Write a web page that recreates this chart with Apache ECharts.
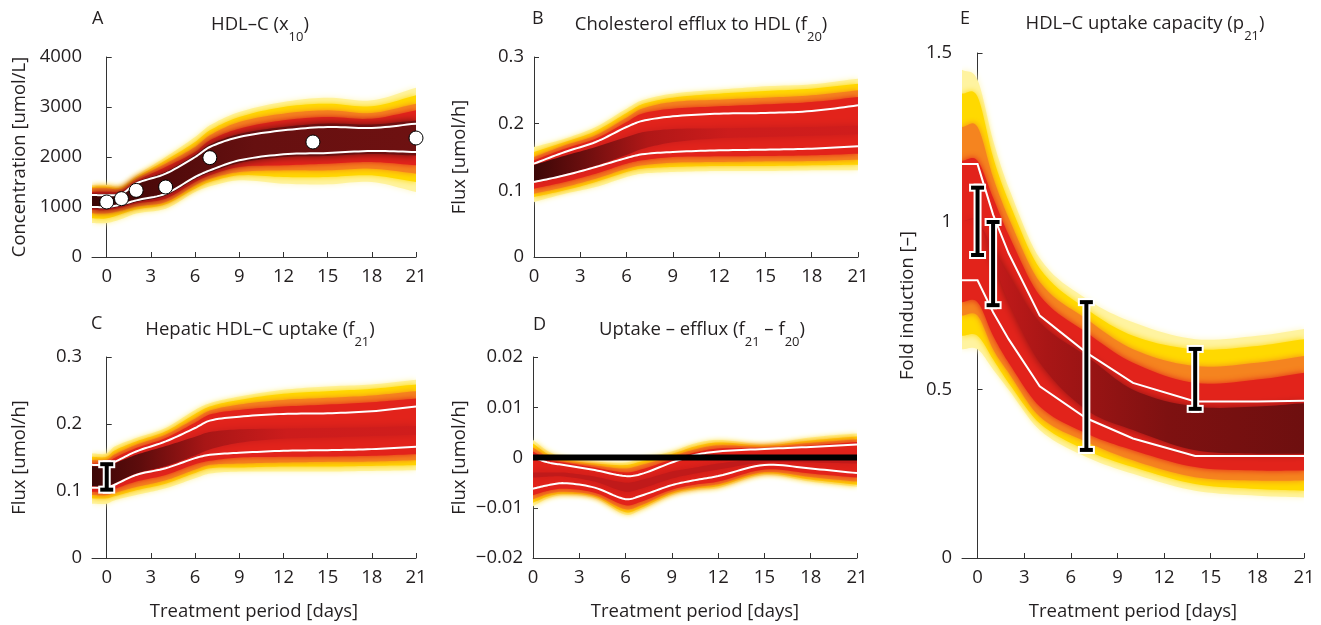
<!DOCTYPE html>
<html><head><meta charset="utf-8">
<script src="https://cdn.jsdelivr.net/npm/echarts@6/dist/echarts.min.js"></script>
<style>html,body{margin:0;padding:0;background:#fff}#c{width:1321px;height:625px}</style>
</head><body><div id="c"></div><script>
// ---------- Panel A : HDL-C (x10) ----------
const tA      = [-1, 0, 1, 2, 4, 6, 7, 9, 12, 15, 18, 21];
const aPaleHi = [1440,1440,1420,1630,2000,2400,2633,2900,3100,3187,3133,3387];
const aYelHi  = [1407,1407,1390,1595,1933,2300,2533,2800,3000,3067,3013,3233];
const aOraHi  = [1373,1373,1360,1560,1867,2200,2433,2700,2867,2933,2880,3067];
const aRedHi  = [1307,1307,1320,1520,1800,2100,2333,2567,2733,2800,2767,2933];
const aDarkHi = [1265,1260,1285,1495,1700,2040,2250,2460,2600,2670,2650,2730];
const aWhiteHi= [1240,1235,1260,1470,1667,2000,2200,2400,2533,2600,2580,2667];
const aWhiteLo= [1000,1000,1050,1133,1267,1600,1733,1933,2053,2080,2120,2100];
const aDarkLo = [975,975,1020,1100,1230,1560,1690,1880,2000,2020,2060,2030];
const aRedLo  = [940,940,990,1070,1167,1500,1633,1800,1833,1867,1900,1833];
const aOraLo  = [873,873,930,1010,1100,1433,1567,1700,1733,1733,1767,1667];
const aYelLo  = [773,773,860,950,1053,1367,1500,1633,1600,1600,1633,1500];
const aPaleLo = [680,680,760,870,967,1300,1413,1533,1467,1453,1500,1300];
const tObs    = [0, 1, 2, 4, 7, 14, 21];
const hdlObs  = [1100, 1167, 1333, 1400, 1987, 2300, 2380];

// ---------- Panel B : efflux f20 ----------
const tB      = [0, 2, 4, 6, 7, 9, 12, 15, 18, 21];
const bPaleHi = [0.165,0.1775,0.195,0.2225,0.235,0.245,0.251,0.256,0.259,0.2675];
const bYelHi  = [0.1575,0.1725,0.189,0.216,0.229,0.239,0.245,0.249,0.2525,0.26];
const bOraHi  = [0.150,0.1675,0.1825,0.209,0.2225,0.2325,0.236,0.239,0.2425,0.25];
const bRedHi  = [0.145,0.1625,0.1775,0.2025,0.215,0.2225,0.226,0.229,0.2325,0.24];
const bDarkHi = [0.138,0.152,0.165,0.18,0.187,0.192,0.193,0.194,0.195,0.197];
const bWhiteHi= [0.140,0.1575,0.1725,0.195,0.204,0.211,0.215,0.216,0.219,0.2275];
const bWhiteLo= [0.1125,0.1225,0.135,0.1485,0.154,0.1575,0.160,0.161,0.1625,0.166];
const bDarkLo = [0.112,0.124,0.137,0.153,0.162,0.172,0.178,0.180,0.182,0.184];
const bRedLo  = [0.1025,0.1125,0.125,0.140,0.145,0.150,0.151,0.1515,0.1525,0.155];
const bOraLo  = [0.095,0.105,0.1175,0.1325,0.1375,0.1415,0.1425,0.1435,0.144,0.146];
const bYelLo  = [0.090,0.100,0.1125,0.1275,0.1325,0.135,0.1365,0.1365,0.1375,0.1385];
const bPaleLo = [0.0825,0.095,0.105,0.120,0.125,0.1275,0.129,0.129,0.130,0.130];

// ---------- Panel C : hepatic uptake f21 ----------
const tC      = [-1, 0, 0.5, 2, 4, 6, 7, 9, 12, 15, 18, 21];
const cPaleHi = [0.156,0.156,0.166,0.179,0.194,0.221,0.231,0.241,0.251,0.256,0.259,0.266];
const cYelHi  = [0.151,0.151,0.160,0.174,0.189,0.215,0.226,0.236,0.245,0.249,0.2525,0.259];
const cOraHi  = [0.146,0.146,0.154,0.169,0.184,0.208,0.220,0.229,0.236,0.239,0.2425,0.249];
const cRedHi  = [0.141,0.141,0.149,0.164,0.179,0.202,0.214,0.221,0.226,0.229,0.2325,0.238];
const cDarkHi = [0.137,0.137,0.141,0.154,0.167,0.181,0.188,0.192,0.193,0.194,0.195,0.197];
const cWhiteHi= [0.139,0.139,0.143,0.159,0.174,0.194,0.205,0.211,0.215,0.216,0.219,0.226];
const cWhiteLo= [0.105,0.105,0.109,0.124,0.134,0.149,0.154,0.157,0.160,0.161,0.1625,0.166];
const cDarkLo = [0.107,0.107,0.111,0.126,0.137,0.153,0.162,0.172,0.178,0.180,0.182,0.184];
const cRedLo  = [0.099,0.099,0.103,0.114,0.124,0.140,0.145,0.150,0.151,0.1515,0.1525,0.155];
const cOraLo  = [0.094,0.094,0.097,0.106,0.116,0.132,0.139,0.141,0.1425,0.1435,0.144,0.146];
const cYelLo  = [0.089,0.089,0.092,0.101,0.111,0.127,0.134,0.135,0.1365,0.1365,0.1375,0.1385];
const cPaleLo = [0.081,0.081,0.086,0.094,0.104,0.119,0.126,0.129,0.129,0.129,0.130,0.131];
const cErr    = [[0, 0.102, 0.140]];

// ---------- Panel D : uptake - efflux ----------
const tD      = [0, 1, 2, 4, 6, 7, 9, 10.5, 12, 15, 18, 21];
const dPaleHi = [0.0035,0.0012,0.0000,-0.0008,-0.0010,-0.0002,0.0012,0.0028,0.0035,0.0027,0.0040,0.0048];
const dYelHi  = [0.0028,0.0006,-0.0004,-0.0012,-0.0015,-0.0008,0.0007,0.0022,0.0030,0.0024,0.0034,0.0042];
const dOraHi  = [0.0020,0.0000,-0.0008,-0.0016,-0.0022,-0.0015,0.0002,0.0016,0.0024,0.0021,0.0029,0.0036];
const dRedHi  = [0.0012,-0.0004,-0.0010,-0.0020,-0.0030,-0.0024,-0.0004,0.0010,0.0018,0.0019,0.0024,0.0031];
const dDarkHi = [-0.0030,-0.0030,-0.0030,-0.0038,-0.0050,-0.0045,-0.0028,-0.0020,-0.0012,-0.0002,-0.0002,-0.0002];
const dWhiteHi= [0.0000,-0.0010,-0.0015,-0.0025,-0.0037,-0.0033,-0.0010,0.0005,0.0012,0.0017,0.0021,0.0026];
const dWhiteLo= [-0.0062,-0.0055,-0.0051,-0.0060,-0.0083,-0.0076,-0.0055,-0.0045,-0.0037,-0.0015,-0.0022,-0.0031];
const dDarkLo = [-0.0040,-0.0038,-0.0038,-0.0048,-0.0068,-0.0062,-0.0042,-0.0032,-0.0024,-0.0010,-0.0010,-0.0012];
const dRedLo  = [-0.0075,-0.0066,-0.0062,-0.0070,-0.0095,-0.0088,-0.0064,-0.0054,-0.0048,-0.0024,-0.0032,-0.0040];
const dOraLo  = [-0.0083,-0.0072,-0.0068,-0.0075,-0.0103,-0.0095,-0.0068,-0.0059,-0.0053,-0.0029,-0.0039,-0.0048];
const dYelLo  = [-0.0090,-0.0077,-0.0072,-0.0078,-0.0109,-0.0100,-0.0072,-0.0062,-0.0057,-0.0032,-0.0044,-0.0054];
const dPaleLo = [-0.0097,-0.0081,-0.0075,-0.0081,-0.0114,-0.0104,-0.0075,-0.0065,-0.0061,-0.0035,-0.0048,-0.0058];
const zeroLine = [[0, 0], [21, 0]];

// ---------- Panel E : uptake capacity p21 ----------
const tE      = [-1, 0, 1, 2, 4, 7, 10, 14, 18, 21];
const ePaleHi = [1.45,1.42,1.24,1.10,0.89,0.77,0.70,0.65,0.66,0.68];
const eYelHi  = [1.38,1.37,1.19,1.06,0.86,0.74,0.66,0.62,0.63,0.65];
const eOraHi  = [1.28,1.28,1.13,1.01,0.82,0.71,0.62,0.57,0.58,0.60];
const eRedHi  = [1.18,1.18,1.07,0.96,0.78,0.67,0.58,0.52,0.53,0.55];
const eDarkHi = [1.00,1.00,0.92,0.84,0.70,0.60,0.50,0.45,0.45,0.46];
const eWhiteHi= [1.17,1.17,1.02,0.905,0.72,0.61,0.52,0.465,0.465,0.467];
const eWhiteLo= [0.825,0.825,0.73,0.65,0.51,0.415,0.355,0.303,0.303,0.303];
const eDarkLo = [1.00,1.00,0.88,0.76,0.58,0.44,0.38,0.32,0.31,0.31];
const eRedLo  = [0.76,0.76,0.66,0.58,0.45,0.37,0.32,0.27,0.26,0.26];
const eOraLo  = [0.72,0.72,0.62,0.55,0.42,0.345,0.29,0.24,0.23,0.23];
const eYelLo  = [0.66,0.66,0.59,0.52,0.40,0.32,0.27,0.22,0.205,0.20];
const ePaleLo = [0.62,0.62,0.56,0.50,0.38,0.30,0.25,0.20,0.185,0.18];
const eErr    = [[0, 0.90, 1.10], [1, 0.751, 0.998], [7, 0.321, 0.760], [14, 0.443, 0.621]];

const xTicks = [0, 3, 6, 9, 12, 15, 18, 21];

// ---------- styling ----------
const FONT = 'Open Sans';
const TXT = '#231f20';
const AX = '#333333';
const FS = 18.5;
const C_PALE = '#fff3a0', C_YEL = '#ffd900', C_ORA = '#f5841f', C_RED = '#e2231b';
const grad = (stops) => ({type:'linear', x:0, y:0, x2:1, y2:0, colorStops: stops.map(s => ({offset:s[0], color:s[1]}))});

// rendering helper: smooth pixel polyline (cubic Hermite in x, drawing only)
function smoothPx(P, smooth) {
  if (!smooth || P.length < 3) return P.slice();
  const n = P.length, m = [];
  for (let i = 0; i < n; i++) {
    const a = P[Math.max(i - 1, 0)], b = P[Math.min(i + 1, n - 1)];
    m.push((b[1] - a[1]) / ((b[0] - a[0]) || 1));
  }
  const out = [];
  for (let i = 0; i < n - 1; i++) {
    const p = P[i], q = P[i + 1], h = q[0] - p[0];
    const steps = 10;
    for (let k = 0; k < steps; k++) {
      const s = k / steps, s2 = s * s, s3 = s2 * s;
      const h00 = 2*s3 - 3*s2 + 1, h10 = s3 - 2*s2 + s, h01 = -2*s3 + 3*s2, h11 = s3 - s2;
      out.push([p[0] + h * s, h00*p[1] + h10*h*m[i] + h01*q[1] + h11*h*m[i+1]]);
    }
  }
  out.push(P[n - 1]);
  return out;
}

function bandSeries(gi, t, L, smooth) {
  return {
    type: 'custom', xAxisIndex: gi, yAxisIndex: gi, silent: true, animation: false, z: 1, clip: true,
    data: L.map((_, i) => [t[0], i]),
    renderItem(params, api) {
      const l = L[params.dataIndex];
      const top = smoothPx(t.map((x, i) => api.coord([x, l.hi[i]])), smooth);
      const bot = smoothPx(t.map((x, i) => api.coord([x, l.lo[i]])), smooth).reverse();
      return {type: 'polygon', shape: {points: top.concat(bot)},
        style: {fill: l.fill, shadowBlur: l.blur, shadowColor: l.sc}};
    }
  };
}
function whiteLine(gi, t, v, smooth) {
  return {
    type: 'custom', xAxisIndex: gi, yAxisIndex: gi, silent: true, animation: false, z: 3,
    data: [[t[0], v[0]]],
    renderItem(params, api) {
      const pts = smoothPx(t.map((x, i) => api.coord([x, v[i]])), smooth);
      return {type: 'polyline', shape: {points: pts}, style: {stroke: '#ffffff', lineWidth: 2, fill: null}};
    }
  };
}
function errSeries(gi, data) {
  return {
    type: 'custom', xAxisIndex: gi, yAxisIndex: gi, silent: true, animation: false, z: 6,
    data: data,
    renderItem(params, api) {
      const x = api.value(0), lo = api.value(1), hi = api.value(2);
      const pt = api.coord([x, hi]), pb = api.coord([x, lo]);
      const cx = pt[0], yt = pt[1], yb = pb[1];
      return {type: 'group', children: [
        {type:'rect', shape:{x:cx-4, y:yt-4, width:8, height:yb-yt+8}, style:{fill:'#fff'}},
        {type:'rect', shape:{x:cx-8.5, y:yt-4, width:17, height:8}, style:{fill:'#fff'}},
        {type:'rect', shape:{x:cx-8.5, y:yb-4, width:17, height:8}, style:{fill:'#fff'}},
        {type:'rect', shape:{x:cx-2, y:yt, width:4, height:yb-yt}, style:{fill:'#000'}},
        {type:'rect', shape:{x:cx-6.5, y:yt-2, width:13, height:4}, style:{fill:'#000'}},
        {type:'rect', shape:{x:cx-6.5, y:yb-2, width:13, height:4}, style:{fill:'#000'}}
      ]};
    }
  };
}
function layers(pH, pL, yH, yL, oH, oL, rH, rL, dH, dL, dFill, dSc) {
  return [
    {hi: pH, lo: pL, fill: C_PALE, sc: '#fff7c0', blur: 6},
    {hi: yH, lo: yL, fill: C_YEL, sc: C_YEL, blur: 6},
    {hi: oH, lo: oL, fill: C_ORA, sc: C_ORA, blur: 6},
    {hi: rH, lo: rL, fill: C_RED, sc: C_RED, blur: 6},
    {hi: dH, lo: dL, fill: dFill, sc: dSc, blur: 8}
  ];
}

const grids = [
  {left: 92, top: 57, width: 324, height: 200},
  {left: 534, top: 57, width: 324, height: 200},
  {left: 92, top: 357, width: 324, height: 201},
  {left: 533, top: 357, width: 324, height: 201},
  {left: 962, top: 53, width: 342, height: 505}
].map(g => Object.assign(g, {containLabel: false, outerBoundsMode: 'none'}));

const xMins = [-1, 0, -1, 0, -1];
const xNames = ['', '', 'Treatment period [days]', 'Treatment period [days]', 'Treatment period [days]'];
const xAxes = xMins.map((mn, i) => ({
  gridIndex: i, type: 'value', min: mn, max: 21, interval: 3,
  name: xNames[i], nameLocation: 'middle', nameGap: 44,
  nameTextStyle: {fontFamily: FONT, fontSize: FS, color: TXT},
  axisLine: {show: true, onZero: false, lineStyle: {color: AX, width: 1}},
  axisTick: {show: true, inside: true, length: 5, customValues: xTicks, lineStyle: {color: AX}},
  axisLabel: {fontFamily: FONT, fontSize: FS, color: TXT, margin: 10, customValues: xTicks},
  splitLine: {show: false}
}));
const minus = v => (v < 0 ? '\u2212' + String(+Math.abs(v).toFixed(4)) : String(+v.toFixed(4)));
const yDefs = [
  {min: 0, max: 4000, interval: 1000, name: 'Concentration [umol/L]', gap: 63},
  {min: 0, max: 0.3, interval: 0.1, name: 'Flux [umol/h]', gap: 65},
  {min: 0, max: 0.3, interval: 0.1, name: 'Flux [umol/h]', gap: 63},
  {min: -0.02, max: 0.02, interval: 0.01, name: 'Flux [umol/h]', gap: 64},
  {min: 0, max: 1.5, interval: 0.5, name: 'Fold induction [\u2013]', gap: 45}
];
const yAxes = yDefs.map((d, i) => ({
  gridIndex: i, type: 'value', min: d.min, max: d.max, interval: d.interval,
  name: d.name, nameLocation: 'middle', nameGap: d.gap,
  nameTextStyle: {fontFamily: FONT, fontSize: FS, color: TXT},
  axisLine: {show: true, lineStyle: {color: AX, width: 1}},
  axisTick: {show: true, inside: true, length: 5, lineStyle: {color: AX}},
  axisLabel: {fontFamily: FONT, fontSize: FS, color: TXT, margin: 10, formatter: minus},
  splitLine: {show: false}
}));

const series = [
  bandSeries(0, tA, layers(aPaleHi, aPaleLo, aYelHi, aYelLo, aOraHi, aOraLo, aRedHi, aRedLo, aDarkHi, aDarkLo,
    grad([[0,'#3a0606'],[0.2,'#4e0a0a'],[0.5,'#661010'],[1,'#6e1111']]), '#5a0c0c'), true),
  whiteLine(0, tA, aWhiteHi, true), whiteLine(0, tA, aWhiteLo, true),
  {type: 'scatter', xAxisIndex: 0, yAxisIndex: 0, data: tObs.map((x, i) => [x, hdlObs[i]]),
   symbolSize: 14, itemStyle: {color: '#ffffff', opacity: 1, borderColor: '#000', borderWidth: 1}, z: 6, silent: true, animation: false},

  bandSeries(1, tB, layers(bPaleHi, bPaleLo, bYelHi, bYelLo, bOraHi, bOraLo, bRedHi, bRedLo, bDarkHi, bDarkLo,
    grad([[0,'#3c0707'],[0.15,'#6a0e0e'],[0.35,'#b01717'],[0.6,'#cc1c1c'],[1,'#d01d1c']]), '#c41b1b'), true),
  whiteLine(1, tB, bWhiteHi, true), whiteLine(1, tB, bWhiteLo, true),

  bandSeries(2, tC, layers(cPaleHi, cPaleLo, cYelHi, cYelLo, cOraHi, cOraLo, cRedHi, cRedLo, cDarkHi, cDarkLo,
    grad([[0,'#3c0707'],[0.15,'#5e0c0c'],[0.35,'#a81616'],[0.6,'#cc1c1c'],[1,'#d01d1c']]), '#c41b1b'), true),
  whiteLine(2, tC, cWhiteHi, true), whiteLine(2, tC, cWhiteLo, true),
  errSeries(2, cErr),

  bandSeries(3, tD, layers(dPaleHi, dPaleLo, dYelHi, dYelLo, dOraHi, dOraLo, dRedHi, dRedLo, dDarkHi, dDarkLo,
    '#c01a1a', '#c01a1a'), true),
  whiteLine(3, tD, dWhiteHi, true), whiteLine(3, tD, dWhiteLo, true),
  {type: 'line', xAxisIndex: 3, yAxisIndex: 3, data: zeroLine, showSymbol: false, silent: true, animation: false, z: 5,
   lineStyle: {color: '#000', width: 6}},

  bandSeries(4, tE, layers(ePaleHi, ePaleLo, eYelHi, eYelLo, eOraHi, eOraLo, eRedHi, eRedLo, eDarkHi, eDarkLo,
    grad([[0,'#d21d1c'],[0.25,'#a81616'],[0.6,'#7e1111'],[1,'#6e0f0f']]), '#8a1212'), true),
  whiteLine(4, tE, eWhiteHi, false), whiteLine(4, tE, eWhiteLo, false),
  errSeries(4, eErr)
];

const rich = {
  n: {fontFamily: FONT, fontSize: FS, color: TXT},
  s: {fontFamily: FONT, fontSize: 13, color: TXT, padding: [24, 0, 0, 0]},
  L: {fontFamily: FONT, fontSize: 18, color: TXT}
};
function label(text, x, y, align) {
  return {type: 'text', x: x, y: y, silent: true,
    style: {text: text, rich: rich, fontFamily: FONT, fontSize: FS, fill: TXT, align: align || 'center', verticalAlign: 'middle'}};
}
const graphic = [
  label('{L|A}', 92, 19, 'left'), label('{n|HDL\u2013C (x}{s|10}{n|)}', 260, 25),
  label('{L|B}', 532, 19, 'left'), label('{n|Cholesterol efflux to HDL (f}{s|20}{n|)}', 701, 25),
  label('{L|C}', 91, 324, 'left'), label('{n|Hepatic HDL\u2013C uptake (f}{s|21}{n|)}', 260, 330),
  label('{L|D}', 533, 325, 'left'), label('{n|Uptake \u2013 efflux (f}{s|21}{n| \u2013 f}{s|20}{n|)}', 702, 330),
  label('{L|E}', 960, 19, 'left'), label('{n|HDL\u2013C uptake capacity (p}{s|21}{n|)}', 1145, 24)
];

const chart = echarts.init(document.getElementById('c'), null, {renderer: 'canvas'});
chart.setOption({
  animation: false, backgroundColor: '#ffffff',
  grid: grids, xAxis: xAxes, yAxis: yAxes, series: series, graphic: graphic
});
</script></body></html>
